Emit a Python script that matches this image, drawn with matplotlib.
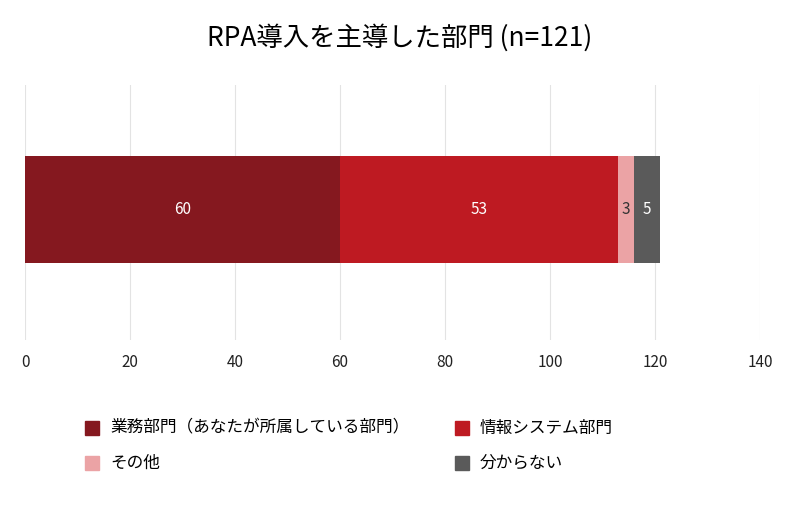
import matplotlib
matplotlib.use("Agg")
import matplotlib.pyplot as plt
from matplotlib.patches import Rectangle

plt.rcParams["font.family"] = "Noto Sans CJK JP"

categories = ["業務部門（あなたが所属している部門）", "情報システム部門", "その他", "分からない"]
values = [60, 53, 3, 5]
colors = ["#85181F", "#BE1A22", "#EBA3A5", "#5A5A5A"]
label_colors = ["white", "white", "#333333", "white"]
xticks = [0, 20, 40, 60, 80, 100, 120, 140]

fig = plt.figure(figsize=(8, 5.14), dpi=100)
ax = fig.add_axes([0.03125, 0.3385, 0.91875, 0.4965])
left = 0
for v, c, lc in zip(values, colors, label_colors):
    ax.barh(0.51, v, left=left, height=0.42, color=c, zorder=3)
    ax.text(left + v / 2, 0.51, str(v), ha="center", va="center", color=lc, fontsize=11, zorder=4)
    left += v
ax.set_xlim(0, 140)
ax.set_ylim(0, 1)
ax.set_xticks(xticks)
ax.set_yticks([])
ax.grid(axis="x", color="#E3E3E3", lw=0.8, zorder=0)
for s in ax.spines.values():
    s.set_visible(False)
ax.tick_params(axis="x", length=0, labelsize=11, colors="#222222", pad=10)

fig.text(0.5, 1 - 38 / 514, "RPA導入を主導した部門 (n=121)", ha="center", va="center", fontsize=19)

pos = [(85, 428), (455, 428), (85, 463), (455, 463)]
for (x, y), c, name in zip(pos, colors, categories):
    fig.add_artist(Rectangle((x / 800, 1 - (y + 7) / 514), 14 / 800, 14 / 514,
                             transform=fig.transFigure, color=c))
    fig.text((x + 25) / 800, 1 - y / 514, name, va="center", ha="left", fontsize=12)

fig.savefig("out.png", dpi=100)
